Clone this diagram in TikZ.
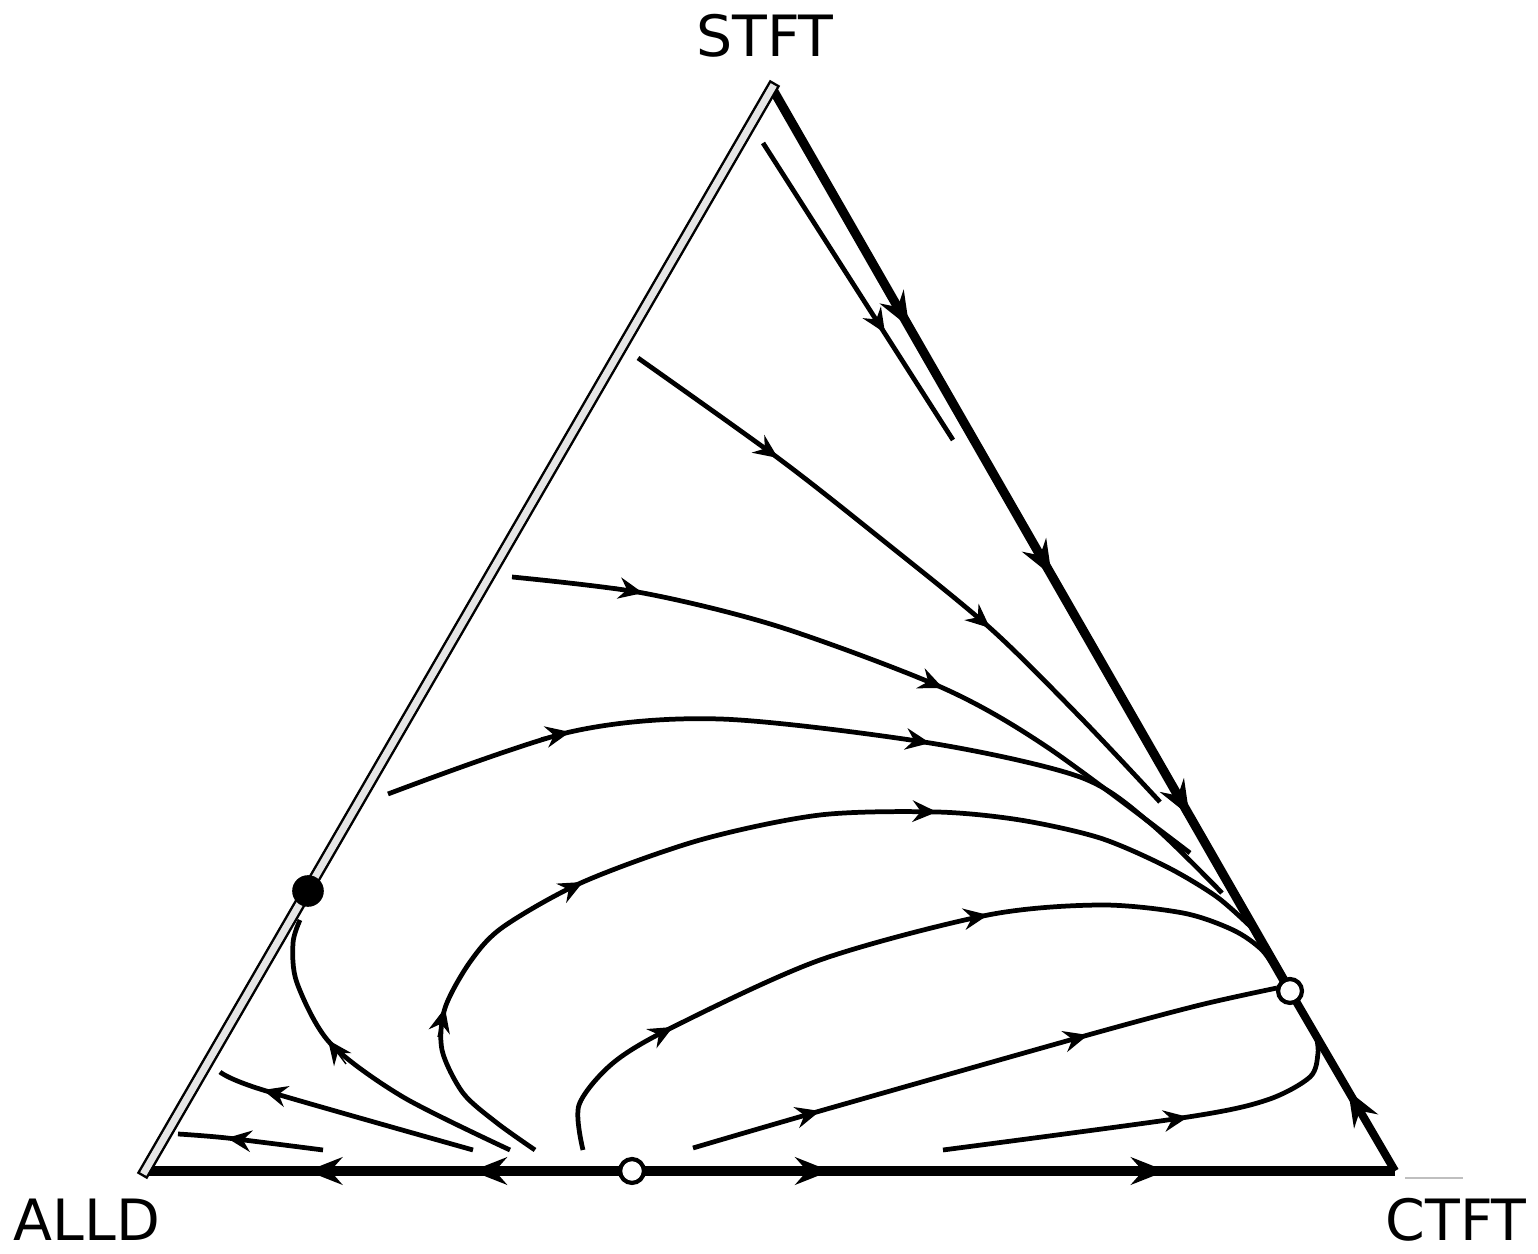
\documentclass[tikz,border=0pt]{standalone}
\usepackage{fontspec}
\setsansfont{DejaVu Sans}
\usetikzlibrary{arrows.meta,decorations.markings}

\tikzset{
  orbit/.style={line width=1.35pt},
  side/.style={line width=2.6pt},
  tipmark/.style={line width=0.4pt,-{Stealth[length=7pt,width=6.2pt,inset=2.4pt]}},
  bigflow/.style={postaction={decorate,decoration={markings,
    mark=at position #1 with {\arrow{Stealth[length=10pt,width=7.8pt,inset=3.4pt]}}}}},
  stable/.style={circle,fill,inner sep=0pt,minimum size=9pt},
  unstable/.style={circle,draw,fill=white,line width=1.2pt,inner sep=0pt,minimum size=6.8pt},
  vertex/.style={font=\sffamily\fontsize{16.2pt}{18pt}\selectfont,inner sep=0pt},
}

\begin{document}
\begin{tikzpicture}[y=-1cm]
  \useasboundingbox (0,0) rectangle (15.38,12.54);
  % corners and rest points
  \coordinate (T) at (7.72,0.88);
  \coordinate (L) at (1.45,11.71);
  \coordinate (R) at (13.95,11.71);
  \coordinate (P) at (6.32,11.71);
  \coordinate (Q) at (12.90,9.91);
  \coordinate (S) at (3.08,8.91);
  % edges of the simplex
  \draw[side,bigflow=0.329,bigflow=0.667] (P) -- (L);
  \draw[side,bigflow=0.26,bigflow=0.70] (P) -- (R);
  \draw[side,bigflow=0.265,bigflow=0.54,bigflow=0.806] (T) -- (Q);
  \draw[side,line width=2.3pt,bigflow=0.446] (R) -- (Q);
  \draw[line width=0.7pt,double=gray!20,double distance=2pt,line cap=rect] (L) -- (T);
  \draw[gray!50,line width=0.4pt] (14.05,11.78) -- (14.63,11.78);
  % orbits
  \draw[orbit] (7.63,1.43) -- (9.53,4.40);
  \draw[orbit] plot[smooth] coordinates
    {(6.38,3.58) (7.78,4.58) (8.80,5.38) (9.90,6.28) (10.80,7.17) (11.60,8.02)};
  \draw[orbit] plot[smooth] coordinates
    {(5.12,5.77) (6.43,5.93) (7.80,6.27) (9.43,6.88) (10.47,7.47) (11.90,8.53)};
  \draw[orbit] plot[smooth] coordinates
    {(3.88,7.94) (5.70,7.32) (7.20,7.19) (9.30,7.43) (10.80,7.77) (11.50,8.23) (12.22,8.93)};
  \draw[orbit] plot[smooth] coordinates
    {(5.35,11.50) (4.97,11.23) (4.63,10.93) (4.42,10.50) (4.45,10.08) (4.70,9.62) (5.03,9.27)
     (5.83,8.82) (7.00,8.40) (8.20,8.15) (9.37,8.12) (10.20,8.20) (11.00,8.38) (11.67,8.67)
     (12.17,8.97) (12.52,9.28)};
  \draw[orbit] plot[smooth] coordinates
    {(5.83,11.50) (5.79,11.05) (6.13,10.63) (6.73,10.27) (8.20,9.60) (9.88,9.15)
     (11.00,9.05) (11.83,9.13) (12.33,9.30) (12.62,9.50) (12.79,9.75)};
  \draw[orbit] plot[smooth] coordinates
    {(6.93,11.48) (8.20,11.11) (10.88,10.35) (12.00,10.05) (12.77,9.88)};
  \draw[orbit] plot[smooth] coordinates
    {(9.43,11.50) (11.88,11.17) (12.67,11.00) (13.10,10.77) (13.18,10.53) (13.16,10.35)};
  % near ALLD
  \draw[orbit] plot[smooth] coordinates {(4.73,11.50) (2.63,10.90) (2.20,10.72)};
  \draw[orbit] plot[smooth] coordinates {(3.23,11.50) (2.27,11.38) (1.78,11.34)};
  \draw[orbit] plot[smooth] coordinates
    {(5.10,11.50) (4.03,10.97) (3.30,10.43) (2.97,9.83) (2.93,9.43) (3.00,9.20)};
  % arrowheads on the orbits (from / to)
  \foreach \a/\b/\c/\d in {8.69/3.08/8.85/3.33, 7.54/4.41/7.78/4.58, 9.67/6.08/9.90/6.28,
      6.14/5.87/6.43/5.93, 9.15/6.76/9.43/6.88, 5.41/7.38/5.70/7.32, 9.00/7.38/9.30/7.43,
      4.38/10.37/4.45/10.08, 5.56/8.96/5.83/8.82, 9.07/8.11/9.37/8.12,
      6.47/10.41/6.73/10.27, 9.59/9.20/9.88/9.15, 7.91/11.19/8.20/11.11,
      10.59/10.43/10.88/10.35, 11.58/11.22/11.88/11.17, 2.92/10.98/2.63/10.90,
      2.57/11.42/2.27/11.38, 3.46/10.64/3.28/10.40}
    \draw[tipmark] (\a,\b) -- (\c,\d);
  % rest points
  \node[stable] (fixS) at (S) {};
  \node[unstable] (fixP) at (P) {};
  \node[unstable] (fixQ) at (Q) {};
  % labels
  \node[vertex] (stft) at (7.65,0.36) {STFT};
  \node[vertex] (alld) at (0.87,12.20) {ALLD};
  \node[vertex] (ctft) at (14.56,12.20) {CTFT};
\end{tikzpicture}
\end{document}
